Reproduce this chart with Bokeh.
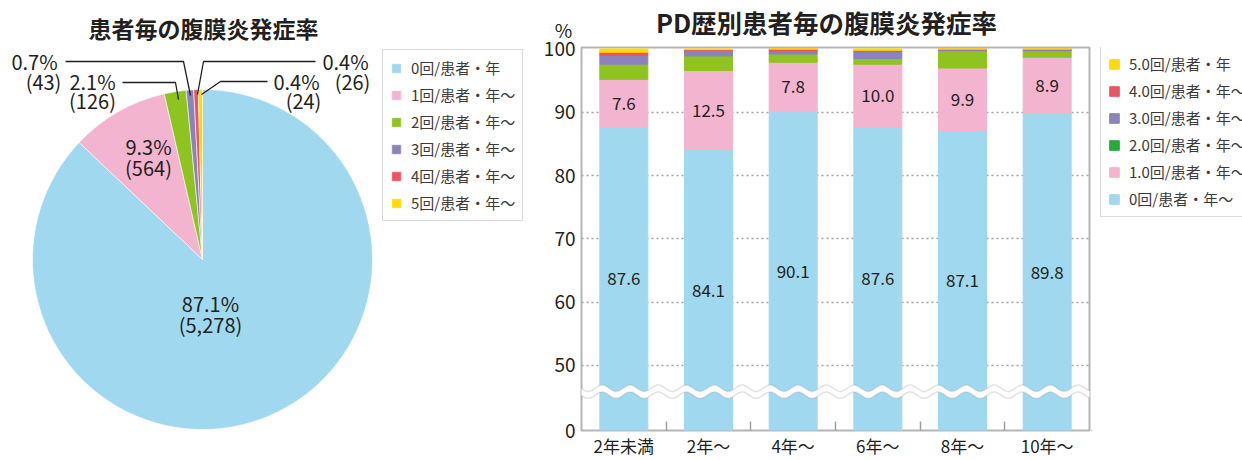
import numpy as np
from bokeh.plotting import figure
from bokeh.models import (ColumnDataSource, Range1d, FixedTicker, CustomJSTickFormatter,
                          PolyAnnotation, Legend, LegendItem)
from bokeh.layouts import row, column
from bokeh.embed import file_html
from bokeh.resources import INLINE
from bokeh.core.properties import value

# ---------------- data ----------------
pie_title = "患者毎の腹膜炎発症率"
pie_cats = ["0回/患者・年", "1回/患者・年〜", "2回/患者・年〜", "3回/患者・年〜", "4回/患者・年〜", "5回/患者・年〜"]
pie_counts = [5278, 564, 126, 43, 26, 24]
pie_pcts = [87.1, 9.3, 2.1, 0.7, 0.4, 0.4]

bar_title = "PD歴別患者毎の腹膜炎発症率"
groups = ["2年未満", "2年〜", "4年〜", "6年〜", "8年〜", "10年〜"]
rate0 = [87.6, 84.1, 90.1, 87.6, 87.1, 89.8]
rate1 = [7.6, 12.5, 7.8, 10.0, 9.9, 8.9]
rate2 = [2.4, 2.3, 1.3, 0.9, 2.7, 1.0]
rate3 = [1.4, 0.8, 0.4, 1.1, 0.2, 0.2]
rate4 = [0.5, 0.2, 0.4, 0.2, 0.1, 0.1]
rate5 = [0.5, 0.1, 0.0, 0.2, 0.0, 0.0]
bar_cats = ["0回/患者・年〜", "1.0回/患者・年〜", "2.0回/患者・年〜", "3.0回/患者・年〜", "4.0回/患者・年〜", "5.0回/患者・年"]
y_ticks = [50, 60, 70, 80, 90, 100]

# ---------------- style ----------------
FONT = "Noto Sans CJK JP"
TXT = "#231f20"
LEG_TXT = "#3e3a39"
GRAY = "#b5b5b6"
colors = ["#a0d8ef", "#f3b4cf", "#8fc31f", "#8c82bc", "#ea5563", "#ffdc00"]
legend_colors_bar = ["#a0d8ef", "#f3b4cf", "#22ac38", "#8c82bc", "#ea5563", "#ffdc00"]

H = 460
TOP = 47       # bar frame top (page px)
BOT = 432      # bar frame bottom (page px)
STRIP = 39     # height of the title strip above the bar chart
X_SPLIT = 524
X0L, X1R = 581.0, 1089.0


def style_legend(lg):
    lg.border_line_color = GRAY
    lg.border_line_width = 1.5
    lg.padding = 7
    lg.spacing = 6
    lg.margin = 0
    lg.label_height = 20
    lg.glyph_height = 12
    lg.glyph_width = 12
    lg.label_standoff = 9
    lg.label_text_font = FONT
    lg.label_text_font_size = "15px"
    lg.label_text_color = LEG_TXT
    lg.background_fill_alpha = 1


def bare(p):
    p.axis.visible = False
    p.grid.visible = False
    p.outline_line_color = None


# ---------------- pie ----------------
def fy(Y):
    return H - Y

p1 = figure(width=X_SPLIT, height=H, x_range=Range1d(0, X_SPLIT), y_range=Range1d(0, H),
            output_backend="svg", toolbar_location=None, min_border=0)
bare(p1)

tot = float(sum(pie_counts))
cum = np.cumsum([0] + pie_counts)
starts = np.pi / 2 - 2 * np.pi * cum[:-1] / tot
ends = np.pi / 2 - 2 * np.pi * cum[1:] / tot
cx, cy, R = 202, fy(259), 170
psrc = ColumnDataSource(dict(start=starts, end=ends, color=colors, cat=pie_cats))
wr = p1.wedge(x=cx, y=cy, radius=R, start_angle="start", end_angle="end", direction="clock",
              fill_color="color", line_color="white", line_width=0.6, source=psrc)

leaders = [
    [(122, 82), (175, 82), (178, 99)],
    [(65, 61), (183, 61), (190, 95)],
    [(315, 61), (203, 61), (197, 94)],
    [(267, 81), (220, 81), (201, 94)],
]
p1.multi_line(xs=[[a for a, b in L] for L in leaders],
              ys=[[fy(b) for a, b in L] for L in leaders],
              line_color=TXT, line_width=1.3)

label_pos = [(210, 303, 210, 324), (148, 146, 148, 167), (92, 81, 92, 100),
             (34, 61, 43, 81), (345, 61, 352, 81), (296, 81, 303, 100)]
lx, ly, lt = [], [], []
for i, (a, b, c, d) in enumerate(label_pos):
    lx += [a, c]
    ly += [fy(b), fy(d)]
    lt += [f"{pie_pcts[i]}%", f"({pie_counts[i]:,})"]
p1.text(x=lx, y=ly, text=lt, text_align="center", text_baseline="middle",
        text_font=value(FONT), text_font_size="20px", text_color=TXT)

p1.text(x=[203], y=[fy(27)], text=[pie_title], text_align="center", text_baseline="middle",
        text_font=value(FONT), text_font_size="23px", text_font_style="bold", text_color=TXT)

leg1 = Legend(items=[LegendItem(label=pie_cats[i], renderers=[wr], index=i) for i in range(6)],
              location=(382, H - 221))
style_legend(leg1)
p1.add_layout(leg1)

# ---------------- title strip above the bar chart ----------------
W_RIGHT = 1242 - X_SPLIT
strip = figure(width=W_RIGHT, height=STRIP, x_range=Range1d(X_SPLIT, 1242), y_range=Range1d(0, STRIP),
               output_backend="svg", toolbar_location=None, min_border=0)
bare(strip)
strip.text(x=[826], y=[STRIP - 20.5], text=[bar_title], text_align="center", text_baseline="middle",
           text_font=value(FONT), text_font_size="25.5px", text_font_style="bold", text_color=TXT)
strip.text(x=[563], y=[STRIP - 29], text=["%"], text_align="center", text_baseline="middle",
           text_font=value(FONT), text_font_size="19px", text_color=TXT)

# ---------------- stacked bars ----------------
PX_PER_UNIT = 6.36
Y0 = 50 - (BOT - 366.5) / PX_PER_UNIT
Y1 = 100 + (48.5 - TOP) / PX_PER_UNIT
UNIT_X = (X1R - X0L) / 6.0


def dx(X):
    return 0.5 + (X - X0L) / UNIT_X


def dy(Y):
    return 100 + (48.5 - Y) / PX_PER_UNIT


W2 = int(X1R) + 2 - X_SPLIT
p2 = figure(width=W2, height=H - STRIP, x_range=Range1d(0.5, 6.5), y_range=Range1d(Y0, Y1),
            output_backend="svg", toolbar_location=None,
            min_border_left=int(X0L - X_SPLIT), min_border_right=2,
            min_border_top=TOP - STRIP, min_border_bottom=H - BOT)
p2.outline_line_color = GRAY
p2.outline_line_width = 2

xs = list(range(1, len(groups) + 1))
bsrc = ColumnDataSource(dict(x=xs, r0=rate0, r1=rate1, r2=rate2, r3=rate3, r4=rate4, r5=rate5))
stack_keys = ["r0", "r1", "r2", "r3", "r4", "r5"]
p2.vbar_stack(stack_keys, x="x", width=48 / UNIT_X, color=colors, source=bsrc)

pink_y = [a + b / 2 for a, b in zip(rate0, rate1)]
blue_y = [(Y0 + a) / 2 for a in rate0]
p2.text(x=xs + xs, y=blue_y + pink_y, text=[f"{v:.1f}" for v in rate0] + [f"{v:.1f}" for v in rate1],
        text_align="center", text_baseline="middle", text_font=value(FONT),
        text_font_size="17px", text_color=TXT)

p2.yaxis.ticker = FixedTicker(ticks=[Y0] + y_ticks)
p2.yaxis.formatter = CustomJSTickFormatter(code="return tick < 45 ? '0' : tick.toFixed(0);")
p2.yaxis.axis_line_color = None
p2.yaxis.major_tick_line_color = None
p2.yaxis.minor_tick_line_color = None
p2.yaxis.major_tick_out = 0
p2.yaxis.major_tick_in = 0
p2.yaxis.minor_tick_out = 0
p2.yaxis.axis_label_standoff = 0
p2.yaxis.major_label_standoff = 6
p2.yaxis.major_label_text_font = FONT
p2.yaxis.major_label_text_font_size = "19px"
p2.yaxis.major_label_text_color = TXT

p2.xaxis.ticker = FixedTicker(ticks=xs, minor_ticks=[x + 0.5 for x in xs[:-1]])
p2.xaxis.formatter = CustomJSTickFormatter(args=dict(labels=groups),
                                           code="return labels[Math.round(tick) - 1] || '';")
p2.xaxis.axis_line_color = None
p2.xaxis.major_tick_line_color = None
p2.xaxis.major_tick_out = 0
p2.xaxis.major_tick_in = 0
p2.xaxis.minor_tick_line_color = "#9fa0a0"
p2.xaxis.minor_tick_line_width = 1.5
p2.xaxis.minor_tick_in = 9
p2.xaxis.minor_tick_out = 0
p2.xaxis.axis_label_standoff = 0
p2.xaxis.major_label_standoff = 2
p2.xaxis.major_label_text_font = FONT
p2.xaxis.major_label_text_font_size = "17px"
p2.xaxis.major_label_text_color = TXT

p2.xgrid.visible = False
p2.ygrid.ticker = FixedTicker(ticks=y_ticks[:-1])
p2.ygrid.grid_line_color = "#9fa0a0"
p2.ygrid.grid_line_dash = "2 3"
p2.ygrid.grid_line_width = 1.5

# axis break wave
wx = np.linspace(dx(556), dx(1094), 400)
k = 2 * np.pi / (28.0 / UNIT_X)
amp = 3.2 / PX_PER_UNIT
yc = dy(393)
up = yc + 0.55 + amp * np.sin(k * wx)
lo = yc - 0.55 + amp * np.sin(k * wx)
band = PolyAnnotation(xs=list(wx) + list(wx[::-1]), ys=list(up) + list(lo[::-1]),
                      fill_color="white", fill_alpha=1, line_alpha=0)
p2.add_layout(band)
for yy in (up, lo):
    p2.add_layout(PolyAnnotation(xs=list(wx) + list(wx[::-1]), ys=list(yy) + list(yy[::-1]),
                                 fill_alpha=0, line_color="#9fa0a0", line_width=1.5))

# ---------------- legend panel for bars ----------------
X3 = X_SPLIT + W2
p3 = figure(width=1242 - X3, height=H - STRIP, x_range=Range1d(0, 1), y_range=Range1d(0, 1),
            output_backend="svg", toolbar_location=None,
            min_border_left=0, min_border_right=0, min_border_top=TOP - STRIP, min_border_bottom=H - BOT)
bare(p3)
dummy = [p3.vbar(x=[-5], top=[-5], width=0.1, fill_color=c, line_color=c) for c in legend_colors_bar]
leg2 = Legend(items=[LegendItem(label=bar_cats[i], renderers=[dummy[i]]) for i in range(5, -1, -1)],
              location=(1100 - X3, BOT - 219))
style_legend(leg2)
p3.add_layout(leg2)

layout = row(p1, column(strip, row(p2, p3)))
open("out.html", "w").write(file_html(layout, INLINE))
